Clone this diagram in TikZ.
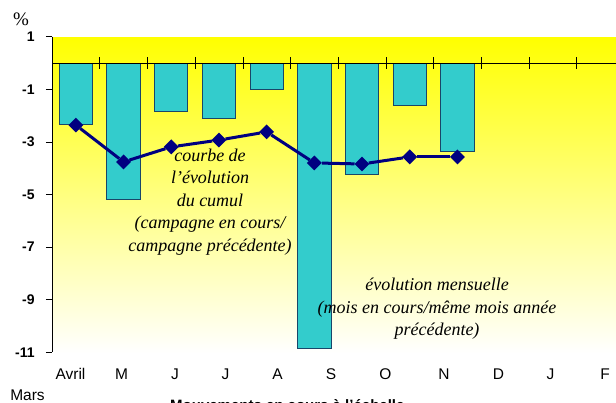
\documentclass[tikz,border=0pt]{standalone}
\usepackage{fontspec}
\setmainfont{Liberation Serif}
\setsansfont{Liberation Sans}
\usetikzlibrary{shapes.geometric}
\definecolor{barfill}{RGB}{51,204,204}
\definecolor{bardraw}{RGB}{25,70,105}
\definecolor{cumul}{RGB}{0,0,128}
\begin{document}
\begin{tikzpicture}[x=1pt,y=-1pt]

        \useasboundingbox (0,0) rectangle (616,402);
        \fill[top color=yellow, bottom color=white] (52,37) rectangle (616,353);

        \begin{scope}[shift={(52,63)}, x=47.7pt, y=26.3pt]

          % barres mensuelles
          \begin{scope}[every path/.style={fill=barfill, draw=bardraw, line width=.9pt}]
            \foreach \i/\v in {1/-2.32, 2/-5.17, 3/-1.86, 4/-2.09, 5/-0.99,
                               6/-10.84, 7/-4.22, 8/-1.63, 9/-3.35}
              \path (\i-0.85,0) rectangle (\i-0.15,\v);
          \end{scope}

          % axes
          \draw[line width=.8pt] (0,1) -- (0,-11);
          \draw[line width=.6pt] (0,0) -- (11.82,0);
          \foreach \k in {1,...,11}
            \draw[line width=.6pt] (\k,0.21) -- (\k,-0.21);
          \foreach \v in {1,-1,...,-11}
            \draw[line width=.6pt] (-0.13,\v) -- (0,\v);

          \begin{scope}[every node/.style={anchor=east, font=\sffamily\bfseries\fontsize{14}{16}\selectfont}]
            \foreach \v in {1,-1,...,-11}
              \node (y\v) at (-0.29,\v) {\v};
          \end{scope}

          % courbe du cumul
          \begin{scope}[every node/.style={diamond, fill=cumul, inner sep=0pt, minimum size=15pt}]
            \node (c1) at (0.5,-2.36) {};
            \node (c2) at (1.5,-3.76) {};
            \node (c3) at (2.5,-3.19) {};
            \node (c4) at (3.5,-2.93) {};
            \node (c5) at (4.5,-2.62) {};
            \node (c6) at (5.5,-3.80) {};
            \node (c7) at (6.5,-3.84) {};
            \node (c8) at (7.5,-3.57) {};
            \node (c9) at (8.5,-3.57) {};
          \end{scope}

          \begin{scope}[every edge/.style={draw=cumul, line width=3pt}]
            \path (c1) edge (c2);
            \path (c2) edge (c3);
            \path (c3) edge (c4);
            \path (c4) edge (c5);
            \path (c5) edge (c6);
            \path (c6) edge (c7);
            \path (c7) edge (c8);
            \path (c8) edge (c9);
          \end{scope}
        \end{scope}

        % mois
        \begin{scope}[every node/.style={anchor=base, font=\sffamily\fontsize{15.5}{18}\selectfont}]
          \node (m1)  at (70.5,379)  {Avril};
          \node (m2)  at (121.7,379) {M};
          \node (m3)  at (175,379)   {J};
          \node (m4)  at (225.5,379) {J};
          \node (m5)  at (277.5,379) {A};
          \node (m6)  at (331,379)   {S};
          \node (m7)  at (385.5,379) {O};
          \node (m8)  at (444,379)   {N};
          \node (m9)  at (498.5,379) {D};
          \node (m10) at (550.5,379) {J};
          \node (m11) at (605,379)   {F};
          \node (m12) at (27.5,400)  {Mars};
        \end{scope}

        \node (pct) at (21,19) {\fontsize{19}{20}\selectfont\%};

        % commentaires
        \begin{scope}[every node/.style={align=center, font=\itshape\fontsize{18}{22.5}\selectfont}]
          \node (cumulnote) at (210,202) {courbe de\\l'évolution\\du cumul\\(campagne en cours/\\campagne précédente)};
          \node (moisnote)  at (437,309) {évolution mensuelle\\(mois en cours/même mois année\\précédente)};
        \end{scope}

        \node[anchor=base west, inner sep=0pt, font=\sffamily\bfseries\fontsize{15}{17}\selectfont] (titre) at (170,410) {Mouvements en cours à l'échelle};

      \end{tikzpicture}
\end{document}
